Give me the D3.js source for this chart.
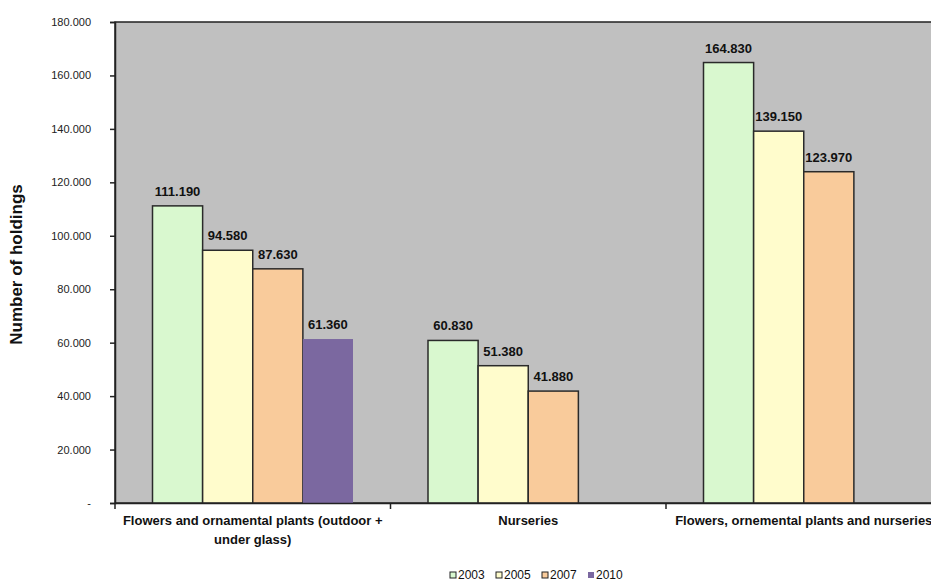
<!DOCTYPE html>
<html>
<head>
<meta charset="utf-8">
<script src="https://cdn.jsdelivr.net/npm/d3@7"></script>
<style>
  body { margin: 0; background: #fff; overflow: hidden; }
  svg { display: block; font-family: "Liberation Sans", Arial, sans-serif; }
</style>
</head>
<body>
<div id="chart"></div>
<script>
const categories = [
    'Flowers and ornamental plants (outdoor + under glass)',
    'Nurseries',
    'Flowers, ornemental plants and nurseries'
];
const years = ['2003', '2005', '2007', '2010'];
const values2003 = [111190, 60830, 164830];
const values2005 = [94580, 51380, 139150];
const values2007 = [87630, 41880, 123970];
const values2010 = [61360, null, null];
const yTicks = [0, 20000, 40000, 60000, 80000, 100000, 120000, 140000, 160000, 180000];
const colors = ['#d9f8cf', '#fffccc', '#f9cb9b', '#7b68a0'];

const seriesValues = [values2003, values2005, values2007, values2010];

function createHoldingsChart() {
    const container = document.getElementById('chart');
    const totalWidth = 931, totalHeight = 585;
    const margin = { top: 22, left: 115, bottom: 82 };
    const width = 826.5;  // plot runs past the right edge, like the source
    const height = totalHeight - margin.top - margin.bottom;

    const svg = d3.select(container)
        .append('svg')
        .attr('width', totalWidth)
        .attr('height', totalHeight);

    const g = svg.append('g')
        .attr('transform', `translate(${margin.left},${margin.top})`);

    const locale = d3.formatLocale({ decimal: ',', thousands: '.', grouping: [3], currency: ['', ''] });
    const fmt = locale.format(',d');

    const x = d3.scaleBand()
        .domain(categories)
        .range([0, width])
        .padding(0);

    const inner = d3.scaleBand()
        .domain(years)
        .range([37.5, x.bandwidth() - 37.5])
        .padding(0);

    const y = d3.scaleLinear()
        .domain([0, 180000])
        .range([height, 0]);

    g.append('rect')
        .attr('x', 0)
        .attr('y', 0)
        .attr('width', width)
        .attr('height', height)
        .attr('fill', '#c0c0c0')
        .attr('stroke', '#222')
        .attr('stroke-width', 1.5);

    // bars
    const rows = [];
    categories.forEach((c, i) => {
        years.forEach((yr, j) => {
            const v = seriesValues[j][i];
            if (v != null) rows.push({ cat: c, year: yr, value: v, idx: j });
        });
    });

    g.selectAll('.bar')
        .data(rows)
        .enter()
        .append('rect')
        .attr('class', 'bar')
        .attr('x', d => x(d.cat) + inner(d.year))
        .attr('y', d => y(d.value))
        .attr('width', inner.bandwidth())
        .attr('height', d => height - y(d.value))
        .attr('fill', d => colors[d.idx])
        .attr('stroke', d => d.idx === 3 ? 'none' : '#2a2a2a')
        .attr('stroke-width', 1.5);

    g.selectAll('.bar-label')
        .data(rows)
        .enter()
        .append('text')
        .attr('class', 'bar-label')
        .attr('x', d => x(d.cat) + inner(d.year) + inner.bandwidth() / 2)
        .attr('y', d => y(d.value) - 10)
        .attr('text-anchor', 'middle')
        .style('font-size', '13px')
        .style('font-weight', 'bold')
        .style('fill', '#111')
        .text(d => fmt(d.value));

    // y axis
    const yAxis = g.append('g')
        .call(d3.axisLeft(y)
            .tickValues(yTicks)
            .tickSize(5)
            .tickPadding(19)
            .tickFormat(d => d === 0 ? '-' : fmt(d)));
    yAxis.select('.domain').attr('stroke', '#222').attr('stroke-width', 1.5);
    yAxis.selectAll('line').attr('stroke', '#222').attr('stroke-width', 1.5);
    yAxis.selectAll('text')
        .style('font-size', '11px')
        .style('fill', '#222');

    // x axis
    const xAxis = g.append('g')
        .attr('transform', `translate(0,${height})`)
        .call(d3.axisBottom(x).tickSize(0).tickFormat(''));
    xAxis.select('.domain').attr('stroke', '#222').attr('stroke-width', 1.5);

    xAxis.selectAll('.cat-tick')
        .data(d3.range(categories.length + 1))
        .enter()
        .append('line')
        .attr('class', 'cat-tick')
        .attr('x1', i => i * x.bandwidth())
        .attr('x2', i => i * x.bandwidth())
        .attr('y1', 0)
        .attr('y2', 6)
        .attr('stroke', '#222')
        .attr('stroke-width', 1.5);

    const catLabels = xAxis.selectAll('.cat-label')
        .data(categories)
        .enter()
        .append('text')
        .attr('class', 'cat-label')
        .attr('x', d => x(d) + x.bandwidth() / 2)
        .attr('y', 22)
        .attr('text-anchor', 'middle')
        .style('font-size', '13px')
        .style('font-weight', 'bold')
        .style('fill', '#111');

    catLabels.each(function (d) {
        const text = d3.select(this);
        const words = d.split(' ');
        let line = [];
        let tspan = text.append('tspan').attr('x', x(d) + x.bandwidth() / 2).attr('dy', 0);
        words.forEach(w => {
            line.push(w);
            tspan.text(line.join(' '));
            if (tspan.node().getComputedTextLength() > x.bandwidth() - 4 && line.length > 1) {
                line.pop();
                tspan.text(line.join(' '));
                line = [w];
                tspan = text.append('tspan')
                    .attr('x', x(d) + x.bandwidth() / 2)
                    .attr('dy', '1.45em')
                    .text(w);
            }
        });
    });

    // y title
    svg.append('text')
        .attr('transform', `translate(22,${margin.top + height / 2 + 2}) rotate(-90)`)
        .attr('text-anchor', 'middle')
        .style('font-size', '17px')
        .style('font-weight', 'bold')
        .style('fill', '#111')
        .text('Number of holdings');

    // legend
    const legend = svg.append('g')
        .attr('transform', `translate(450,579)`);
    const step = 46;
    const item = legend.selectAll('.legend-item')
        .data(years)
        .enter()
        .append('g')
        .attr('class', 'legend-item')
        .attr('transform', (d, i) => `translate(${i * step},0)`);
    item.append('rect')
        .attr('x', 0)
        .attr('y', -7)
        .attr('width', 6)
        .attr('height', 6)
        .attr('fill', (d, i) => colors[i])
        .attr('stroke', (d, i) => i === 3 ? 'none' : '#222')
        .attr('stroke-width', 1);
    item.append('text')
        .attr('x', 8)
        .attr('y', 0)
        .style('font-size', '12px')
        .style('fill', '#111')
        .text(d => d);
}

createHoldingsChart();
</script>
</body>
</html>
